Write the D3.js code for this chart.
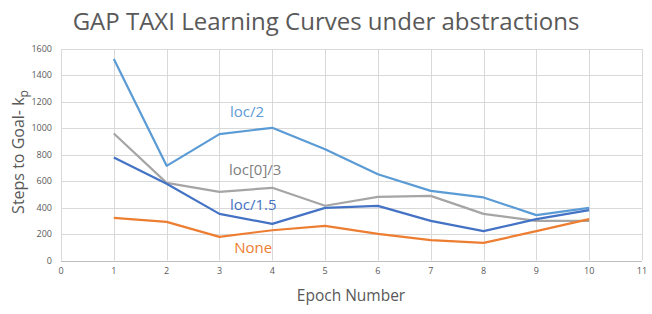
<!DOCTYPE html>
<html>
<head>
<meta charset="utf-8">
<script src="https://cdn.jsdelivr.net/npm/d3@7"></script>
<style>
  body { margin: 0; background: #fff; }
  text { font-family: "Open Sans", "Liberation Sans", sans-serif; }
</style>
</head>
<body>
<svg id="chart"></svg>
<script>
// Chart data
const epochs = [1, 2, 3, 4, 5, 6, 7, 8, 9, 10];
const locHalf = [1525, 716, 956, 1004, 842, 653, 527, 477, 343, 398];
const locZeroThird = [961, 587, 519, 550, 414, 481, 489, 353, 300, 300];
const locOneFive = [780, 580, 353, 277, 398, 413, 300, 222, 313, 381];
const noneSeries = [323, 292, 179, 229, 262, 201, 154, 133, 222, 313];
const xTicks = [0, 1, 2, 3, 4, 5, 6, 7, 8, 9, 10, 11];
const yTicks = [0, 200, 400, 600, 800, 1000, 1200, 1400, 1600];

const series = [
  { name: "loc/2", values: locHalf, color: "#5B9BD5", labelColor: "#5B9BD5", lx: 3.2, ly: 1122 },
  { name: "loc[0]/3", values: locZeroThird, color: "#A5A5A5", labelColor: "#7F7F7F", lx: 3.18, ly: 683 },
  { name: "loc/1.5", values: locOneFive, color: "#4472C4", labelColor: "#4472C4", lx: 3.2, ly: 422 },
  { name: "None", values: noneSeries, color: "#ED7D31", labelColor: "#ED7D31", lx: 3.28, ly: 95 }
];

const W = 652, H = 314;
const svg = d3.select("#chart").attr("width", W).attr("height", H);

const x = d3.scaleLinear().domain([0, 11]).range([61, 642]);
const y = d3.scaleLinear().domain([0, 1600]).range([260.5, 49]);

// Gridlines
svg.append("g").selectAll("line.h")
  .data(yTicks.filter(d => d > 0))
  .enter().append("line")
  .attr("x1", x(0)).attr("x2", x(11))
  .attr("y1", d => Math.round(y(d)) + 0.5).attr("y2", d => Math.round(y(d)) + 0.5)
  .attr("stroke", "#D9D9D9").attr("stroke-width", 1);

svg.append("g").selectAll("line.v")
  .data(xTicks)
  .enter().append("line")
  .attr("x1", d => Math.round(x(d)) + 0.5).attr("x2", d => Math.round(x(d)) + 0.5)
  .attr("y1", y(1600)).attr("y2", y(0))
  .attr("stroke", "#D9D9D9").attr("stroke-width", 1);

// Bottom axis line
svg.append("line")
  .attr("x1", x(0)).attr("x2", x(11))
  .attr("y1", Math.round(y(0)) + 0.5).attr("y2", Math.round(y(0)) + 0.5)
  .attr("stroke", "#BFBFBF").attr("stroke-width", 1);

// Tick labels
svg.append("g").selectAll("text")
  .data(xTicks)
  .enter().append("text")
  .attr("x", d => x(d))
  .attr("y", 274)
  .attr("text-anchor", "middle")
  .style("font-size", "9px")
  .style("fill", "#595959")
  .text(d => d);

svg.append("g").selectAll("text")
  .data(yTicks)
  .enter().append("text")
  .attr("x", 52)
  .attr("y", d => y(d) + 3)
  .attr("text-anchor", "end")
  .style("font-size", "9px")
  .style("fill", "#595959")
  .text(d => d);

// Lines
const line = d3.line()
  .x((d, i) => x(epochs[i]))
  .y(d => y(d));

series.forEach(s => {
  svg.append("path")
    .datum(s.values)
    .attr("d", line)
    .attr("fill", "none")
    .attr("stroke", s.color)
    .attr("stroke-width", 2.2)
    .attr("stroke-linejoin", "round");
});

// Series labels
series.forEach(s => {
  svg.append("text")
    .attr("x", x(s.lx))
    .attr("y", y(s.ly))
    .attr("dy", "0.35em")
    .style("font-size", "15px")
    .style("fill", s.labelColor)
    .text(s.name);
});

// Title
svg.append("text")
  .attr("x", 326)
  .attr("y", 30)
  .attr("text-anchor", "middle")
  .style("font-size", "24px")
  .style("fill", "#595959")
  .text("GAP TAXI Learning Curves under abstractions");

// Axis titles
svg.append("text")
  .attr("x", 351)
  .attr("y", 301)
  .attr("text-anchor", "middle")
  .style("font-size", "15.5px")
  .style("fill", "#595959")
  .text("Epoch Number");

const yTitle = svg.append("text")
  .attr("transform", "translate(24,152) rotate(-90)")
  .attr("text-anchor", "middle")
  .style("font-size", "16px")
  .style("fill", "#595959");
yTitle.append("tspan").text("Steps to Goal- k");
yTitle.append("tspan").attr("dy", 4).style("font-size", "12px").text("p");
</script>
</body>
</html>
